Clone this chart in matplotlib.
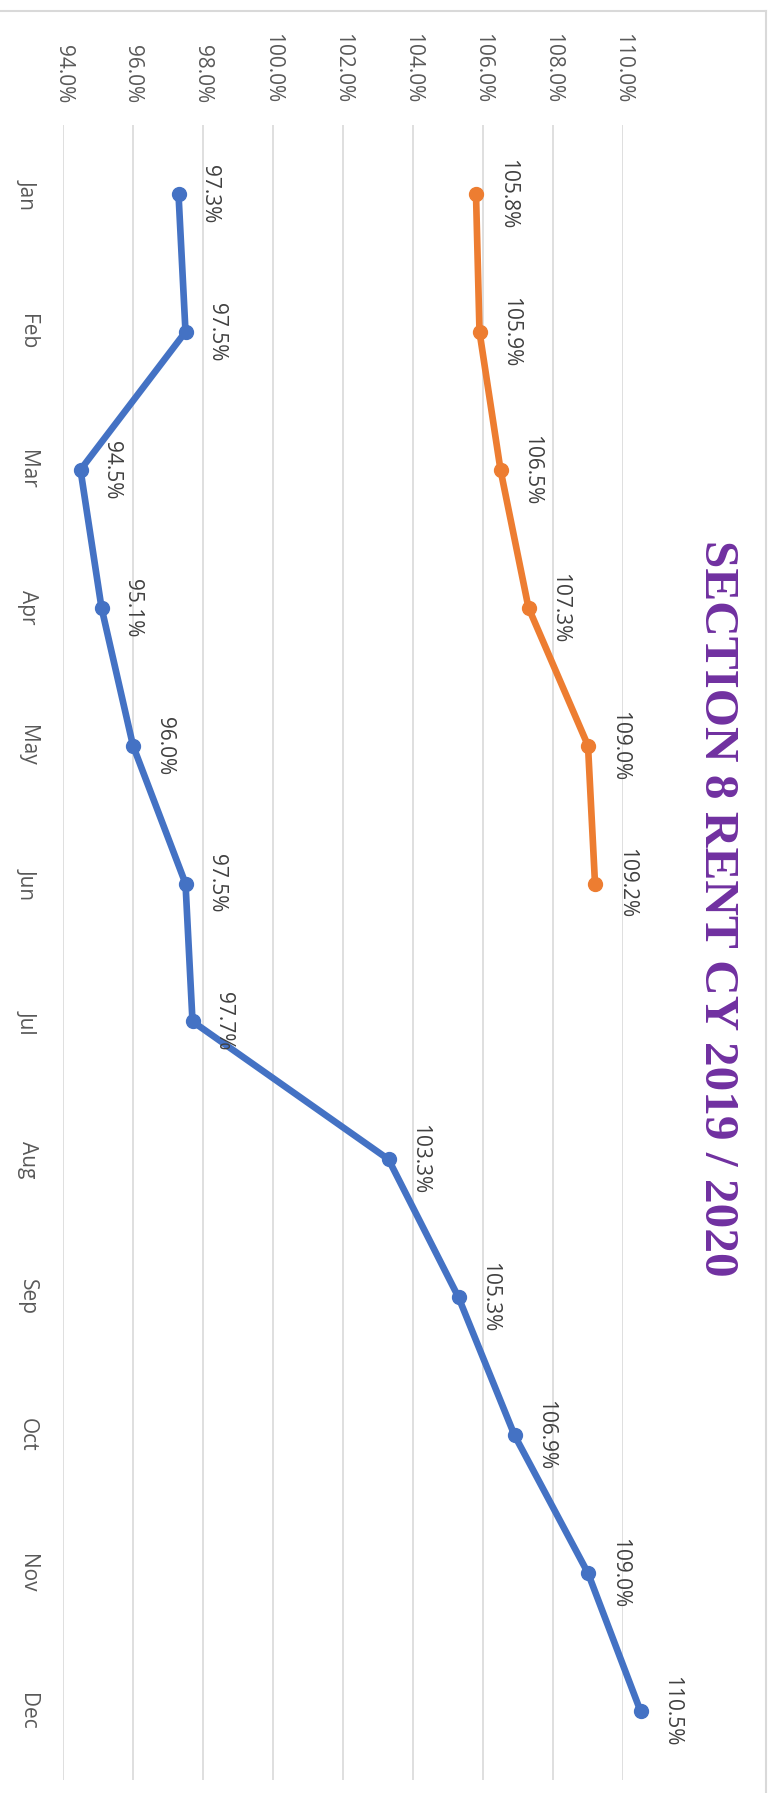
import numpy as np
import matplotlib
matplotlib.use('Agg')
import matplotlib.pyplot as plt
from matplotlib.lines import Line2D

# Chart data (drawn turned 90 degrees clockwise, like the reference)
months = ['Jan', 'Feb', 'Mar', 'Apr', 'May', 'Jun', 'Jul', 'Aug', 'Sep', 'Oct', 'Nov', 'Dec']
blue_vals = [97.3, 97.5, 94.5, 95.1, 96.0, 97.5, 97.7, 103.3, 105.3, 106.9, 109.0, 110.5]
orange_vals = [105.8, 105.9, 106.5, 107.3, 109.0, 109.2]
value_ticks = [94, 96, 98, 100, 102, 104, 106, 108, 110]
title = 'SECTION 8 RENT CY 2019 / 2020'

W, H = 776, 1793
label_font = 'Open Sans'
text_grey = '#595959'

fig = plt.figure(figsize=(W / 100, H / 100), dpi=100)
fig.patch.set_facecolor('white')

# Plot area in pixels
left, right, top, bottom = 63, 623, 125, 1780
ax = fig.add_axes([left / W, (H - bottom) / H, (right - left) / W, (bottom - top) / H])
ax.set_xlim(94, 110)
ax.set_ylim(len(months) - 0.5, -0.5)
for s in ax.spines.values():
    s.set_visible(False)

# Gridlines
for v in value_ticks:
    ax.axvline(v, color='#D9D9D9', lw=1.2, zorder=0)

# Value tick labels on top
ax.xaxis.tick_top()
ax.set_xticks(value_ticks)
ax.set_xticklabels(['%.1f%%' % v for v in value_ticks], rotation=-90,
                   fontsize=15, color=text_grey, family=label_font)
ax.tick_params(axis='x', length=0, pad=16)

# Month labels on the left
y_idx = np.arange(len(months))
ax.set_yticks(y_idx)
ax.set_yticklabels(months, rotation=-90, fontsize=15, color=text_grey,
                   family=label_font, va='center')
ax.tick_params(axis='y', length=0, pad=18)

# Series
ax.plot(blue_vals, y_idx[:len(blue_vals)], color='#4472C4', lw=4.8, marker='o',
        ms=10, clip_on=False, zorder=3, solid_capstyle='round')
ax.plot(orange_vals, y_idx[:len(orange_vals)], color='#ED7D31', lw=4.8, marker='o',
        ms=10, clip_on=False, zorder=3, solid_capstyle='round')

# Data labels
for vals in (blue_vals, orange_vals):
    for i, v in enumerate(vals):
        ax.annotate('%.1f%%' % v, (v, i), xytext=(15, 0), textcoords='offset points',
                    rotation=-90, ha='left', va='center', fontsize=15,
                    color='#404040', family=label_font, annotation_clip=False)

# Title
fig.text(717 / W, 1 - 908 / H, title, rotation=-90, ha='center', va='center',
         fontsize=35.5, fontweight='bold', color='#7030A0', family='Liberation Serif')

# Chart frame (top and right edges visible)
fig.add_artist(Line2D([0, 766 / W], [1 - 11 / H, 1 - 11 / H], color='#D9D9D9', lw=1.5))
fig.add_artist(Line2D([766 / W, 766 / W], [0, 1 - 11 / H], color='#D9D9D9', lw=1.5))

fig.savefig('out.png', dpi=100, facecolor='white')
